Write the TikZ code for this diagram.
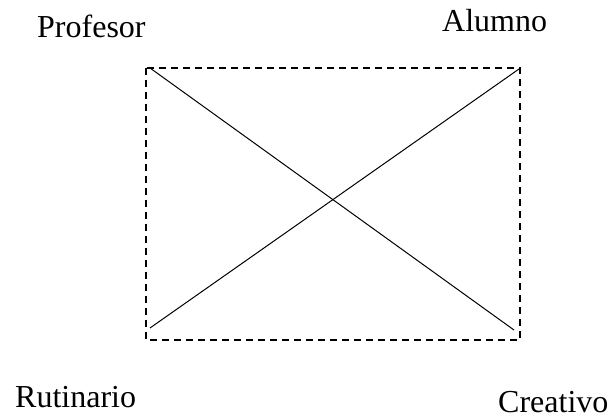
\documentclass[tikz,border=0pt]{standalone}
\usepackage{fontspec}
\setmainfont{Liberation Serif}
\begin{document}
\begin{tikzpicture}[x=1pt,y=-1pt,
  lbl/.style={anchor=base west,inner sep=0pt,font=\fontsize{32}{38}\selectfont},
  frame/.style={line width=1.4pt,dash pattern=on 7pt off 5pt},
  diag/.style={line width=1pt}]
\useasboundingbox (0,0) rectangle (611,419);
\coordinate (tl) at (146,68);
\coordinate (br) at (520,340);
\coordinate (d1a) at (150,68);
\coordinate (d1b) at (514,330);
\coordinate (d2a) at (150,328);
\coordinate (d2b) at (519,69);
\draw[frame] (tl) rectangle (br);
\draw[diag] (d1a) -- (d1b);
\draw[diag] (d2a) -- (d2b);
\node[lbl] (prof) at (37,38) {Profesor};
\node[lbl] (alum) at (442,32) {Alumno};
\node[lbl] (rut) at (15,408) {Rutinario};
\node[lbl] (cre) at (498,413) {Creativo};
\end{tikzpicture}
\end{document}
